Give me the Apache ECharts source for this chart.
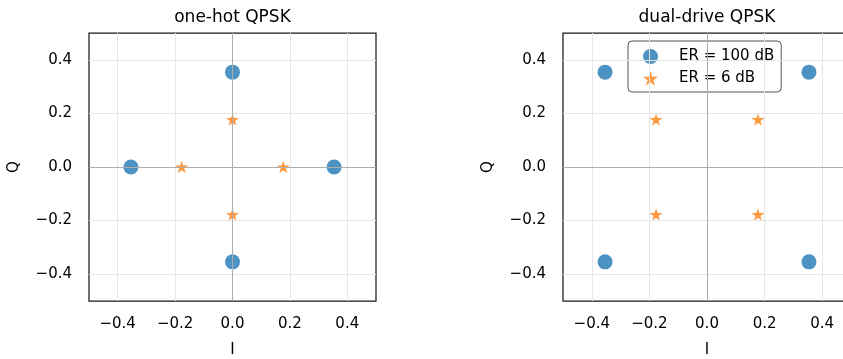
<!DOCTYPE html>
<html>
<head>
<meta charset="utf-8">
<title>QPSK constellations</title>
<script src="https://cdn.jsdelivr.net/npm/echarts@6/dist/echarts.min.js"></script>
<style>
  html, body { margin: 0; padding: 0; background: #ffffff; }
  #chart { width: 843px; height: 359px; }
</style>
</head>
<body>
<div id="chart"></div>
<script>
// Panel titles and legend entries
const panelTitles = ['one-hot QPSK', 'dual-drive QPSK'];
const seriesNames = ['ER = 100 dB', 'ER = 6 dB'];

// One-hot QPSK constellation (I, Q)
const oneHotHighI = [0.354, 0, -0.354, 0];
const oneHotHighQ = [0, 0.354, 0, -0.354];
const oneHotLowI = [0.177, 0, -0.177, 0];
const oneHotLowQ = [0, 0.177, 0, -0.177];

// Dual-drive QPSK constellation (I, Q)
const dualHighI = [0.354, -0.354, -0.354, 0.354];
const dualHighQ = [0.354, 0.354, -0.354, -0.354];
const dualLowI = [0.177, -0.177, -0.177, 0.177];
const dualLowQ = [0.177, 0.177, -0.177, -0.177];

// Axis extent and tick positions (shared by I and Q)
const axisMin = -0.5;
const axisMax = 0.5;
const tickValues = [-0.4, -0.2, 0.0, 0.2, 0.4];

const FONT = 'DejaVu Sans';
const BLUE = '#1f77b4';
const ORANGE = '#ff7f0e';
const STAR = 'path://M0,-1000 L224.5,-309 L951.1,-309 L363.3,118 L587.8,809 L0,382 L-587.8,809 L-363.3,118 L-951.1,-309 L-224.5,-309 Z';

function zip(xs, ys) { return xs.map((x, i) => [x, ys[i]]); }
function fmt(v) {
  const s = Math.abs(v).toFixed(1);
  return v < -1e-9 ? '\u2212' + s : s;
}

const grids = [
  { left: 89, top: 33, width: 287, height: 268 },
  { left: 563, top: 33, width: 288, height: 268 }
];

function makeAxis(idx, name, isX) {
  return {
    type: 'value',
    gridIndex: idx,
    min: axisMin,
    max: axisMax,
    name: name,
    nameLocation: 'middle',
    nameGap: isX ? 42 : 67,
    nameTextStyle: { fontFamily: FONT, fontSize: 15, color: '#000' },
    axisLine: { show: false },
    axisTick: {
      show: true, inside: false, length: 5,
      customValues: tickValues,
      lineStyle: { color: '#222', width: 1 }
    },
    axisLabel: {
      show: true,
      customValues: tickValues,
      margin: isX ? 16 : 17,
      fontFamily: FONT, fontSize: 15, color: '#000',
      formatter: fmt
    },
    splitLine: { show: false }
  };
}

// Background reference lines: light grid at each tick, darker lines through the origin
function guideSeries(idx) {
  const grid = [];
  tickValues.forEach(v => {
    if (Math.abs(v) > 1e-9) {
      grid.push({ xAxis: v, lineStyle: { color: '#e6e6e6', width: 1, type: 'solid' } });
      grid.push({ yAxis: v, lineStyle: { color: '#e6e6e6', width: 1, type: 'solid' } });
    }
  });
  grid.push({ xAxis: 0, lineStyle: { color: '#adadad', width: 1, type: 'solid' } });
  grid.push({ yAxis: 0, lineStyle: { color: '#adadad', width: 1, type: 'solid' } });
  return {
    type: 'scatter',
    xAxisIndex: idx, yAxisIndex: idx,
    data: [],
    z: 1,
    silent: true,
    markLine: {
      silent: true,
      symbol: ['none', 'none'],
      label: { show: false },
      animation: false,
      data: grid
    }
  };
}

function pointSeries(idx, name, xs, ys, isStar) {
  return {
    type: 'scatter',
    name: name,
    xAxisIndex: idx, yAxisIndex: idx,
    data: zip(xs, ys),
    z: 3,
    symbol: isStar ? STAR : 'circle',
    symbolKeepAspect: true,
    symbolSize: isStar ? 13 : 15,
    itemStyle: { color: isStar ? ORANGE : BLUE, opacity: 0.8 },
    emphasis: { disabled: true }
  };
}

const chart = echarts.init(document.getElementById('chart'), null, { renderer: 'canvas' });
chart.setOption({
  animation: false,
  backgroundColor: '#ffffff',
  title: panelTitles.map((t, i) => ({
    text: t,
    left: grids[i].left + grids[i].width / 2,
    textAlign: 'center',
    top: 9,
    padding: 0,
    textStyle: { fontFamily: FONT, fontSize: 17, fontWeight: 'normal', color: '#000' }
  })),
  legend: {
    show: true,
    orient: 'vertical',
    left: 628,
    top: 41,
    padding: [8, 7, 6, 15],
    itemGap: 7,
    itemWidth: 15,
    itemHeight: 15,
    borderColor: '#555',
    borderWidth: 1,
    borderRadius: 4,
    backgroundColor: 'rgba(255,255,255,0.8)',
    textStyle: { fontFamily: FONT, fontSize: 15, color: '#000', padding: [0, 0, 0, 16] },
    data: [
      { name: seriesNames[0], icon: 'circle', itemStyle: { color: BLUE, opacity: 0.8 } },
      { name: seriesNames[1], icon: STAR, itemStyle: { color: ORANGE, opacity: 0.8 } }
    ]
  },
  grid: grids.map(g => Object.assign({
    show: true, borderColor: '#1a1a1a', borderWidth: 1.25,
    backgroundColor: 'transparent', outerBoundsMode: 'none', containLabel: false
  }, g)),
  xAxis: [makeAxis(0, 'I', true), makeAxis(1, 'I', true)],
  yAxis: [makeAxis(0, 'Q', false), makeAxis(1, 'Q', false)],
  series: [
    guideSeries(0),
    guideSeries(1),
    pointSeries(0, seriesNames[0], oneHotHighI, oneHotHighQ, false),
    pointSeries(0, seriesNames[1], oneHotLowI, oneHotLowQ, true),
    pointSeries(1, seriesNames[0], dualHighI, dualHighQ, false),
    pointSeries(1, seriesNames[1], dualLowI, dualLowQ, true)
  ]
});
</script>
</body>
</html>
